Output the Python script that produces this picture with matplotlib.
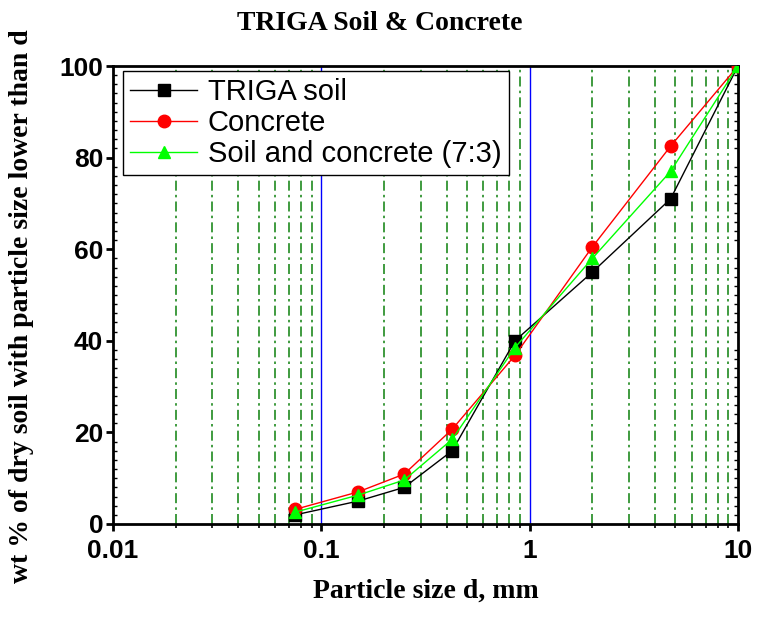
import matplotlib.pyplot as plt
from matplotlib.ticker import FixedLocator, MultipleLocator, NullFormatter

# sieve sizes, mm
size_mm = [0.075, 0.15, 0.25, 0.425, 0.85, 2.0, 4.75, 10.0]

# wt % passing
triga_soil = [2.0, 5.0, 8.0, 16.0, 40.0, 55.0, 71.0, 100.0]
concrete = [3.2, 7.0, 10.9, 20.7, 36.8, 60.5, 82.5, 100.0]
mix_7_3 = [2.6, 6.3, 9.6, 18.5, 38.5, 58.0, 77.0, 100.0]

x_ticks = [0.01, 0.1, 1, 10]
x_tick_labels = ["0.01", "0.1", "1", "10"]
y_ticks = [0, 20, 40, 60, 80, 100]

fig = plt.figure(figsize=(7.6, 6.21), dpi=100)
ax = fig.add_axes([0.1487, 0.1562, 0.8223, 0.7375])

ax.set_xscale("log")
ax.set_xlim(0.01, 10)
ax.set_ylim(0, 100)

# grid: minor dash-dot green, major solid blue
minor_x = [m * 10.0 ** e for e in (-2, -1, 0) for m in range(2, 10)]
ax.xaxis.set_minor_locator(FixedLocator(minor_x))
ax.xaxis.set_minor_formatter(NullFormatter())
ax.set_xticks(x_ticks)
ax.set_xticklabels(x_tick_labels)
for xv in minor_x:
    ax.axvline(xv, color="#1f8a1f", lw=1.2, ls=(0, (6, 2.5, 1.5, 2.5)), zorder=1)
for xv in (0.1, 1):
    ax.axvline(xv, color="#0000ff", lw=1.0, zorder=1)

ax.plot(size_mm, triga_soil, color="black", lw=1, marker="s", ms=8,
        label="TRIGA soil", zorder=3)
ax.plot(size_mm, concrete, color="red", lw=1, marker="o", ms=9,
        label="Concrete", zorder=3)
ax.plot(size_mm, mix_7_3, color="#00ff00", lw=1, marker="^", ms=9,
        label="Soil and concrete (7:3)", zorder=4)

ax.set_yticks(y_ticks)
ax.yaxis.set_minor_locator(MultipleLocator(2))

for s in ax.spines.values():
    s.set_linewidth(2)
ax.tick_params(axis="x", which="major", direction="out", length=5, width=2,
               labelsize=19, pad=6, top=False)
ax.tick_params(axis="x", which="minor", direction="out", length=3, width=1.2,
               top=False)
ax.tick_params(axis="y", which="major", direction="out", length=5, width=2,
               labelsize=19, pad=2, right=False)
ax.tick_params(axis="y", which="minor", direction="in", length=3, width=1,
               right=True)
for lab in ax.get_xticklabels() + ax.get_yticklabels():
    lab.set_fontfamily("Liberation Sans")
    lab.set_fontweight("bold")

ax.set_xlabel("Particle size d, mm", family="Liberation Serif",
              fontweight="bold", fontsize=20)
ax.xaxis.set_label_coords(0.5, -0.12)
ax.set_ylabel("wt % of dry soil with particle size lower than d",
              family="Liberation Serif", fontweight="bold", fontsize=20)
ax.yaxis.set_label_coords(-0.126, 0.475)
fig.text(0.5, 0.962, "TRIGA Soil & Concrete", ha="center", va="center",
         family="Liberation Serif", fontweight="bold", fontsize=20)

leg = ax.legend(loc="upper left", bbox_to_anchor=(0.016, 0.99),
                prop={"family": "Liberation Sans", "size": 21},
                frameon=True, fancybox=False, edgecolor="black",
                framealpha=1, borderpad=0.25, labelspacing=0.1,
                handlelength=2.3, handletextpad=0.35, borderaxespad=0)
leg.get_frame().set_linewidth(1)

fig.savefig("out.png", dpi=100)
